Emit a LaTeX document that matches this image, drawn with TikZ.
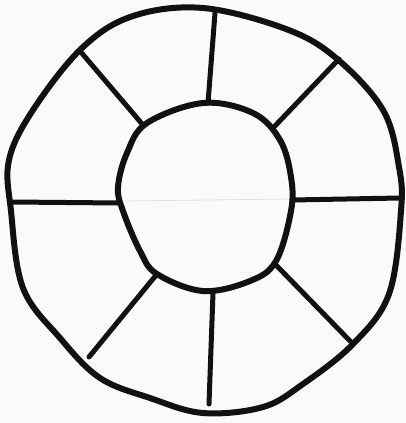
\documentclass[tikz,border=0pt]{standalone}
\usepackage{tikz}
\definecolor{paper}{HTML}{FCF9FC}
\definecolor{ink}{HTML}{111111}
\tikzset{
  rim/.style={draw=ink,line width=6pt,line join=round},
  spoke/.style={draw=ink,line width=5pt,line cap=round}
}

\begin{document}
\begin{tikzpicture}[x=1pt,y=-1pt]
\fill[paper] (0,0) rectangle (406,423);
\useasboundingbox (0,0) rectangle (406,423);
% faint crease
\draw[black!12,line width=0.8pt] (125,201) -- (290,199);
% rims
\draw[rim] plot[smooth cycle,tension=0.6] coordinates {
  (203,8) (286,29) (336,58) (383,110) (399,167) (401,211) (389,294)
  (353,344) (303,384) (263,407) (203,413) (150,398) (100,378) (60,338)
  (23,288) (11,211) (9,160) (33,110) (82,48) (133,16)};
\draw[rim] plot[smooth cycle,tension=0.6] coordinates {
  (203,103) (253,113) (280,140) (291,177) (291,211) (276,261) (250,281)
  (203,291) (157,274) (140,251) (123,211) (118,187) (127,153) (147,123)};
% spoke ends
\coordinate (t1) at (208,103);  \coordinate (t2) at (215,13);
\coordinate (tr1) at (273,128); \coordinate (tr2) at (339,59);
\coordinate (r1) at (292,200);  \coordinate (r2) at (400,198);
\coordinate (br1) at (275,264); \coordinate (br2) at (353,344);
\coordinate (b1) at (213,293);  \coordinate (b2) at (209,404);
\coordinate (bl1) at (157,274); \coordinate (bl2) at (89,357);
\coordinate (l1) at (120,203);  \coordinate (l2) at (12,202);
\coordinate (tl1) at (143,125); \coordinate (tl2) at (80,51);
\draw[spoke] (t1) -- (t2);
\draw[spoke] (tr1) -- (tr2);
\draw[spoke] (r1) -- (r2);
\draw[spoke] (br1) -- (br2);
\draw[spoke] (b1) -- (b2);
\draw[spoke] (bl1) -- (bl2);
\draw[spoke] (l1) -- (l2);
\draw[spoke] (tl1) -- (tl2);
\end{tikzpicture}
\end{document}
